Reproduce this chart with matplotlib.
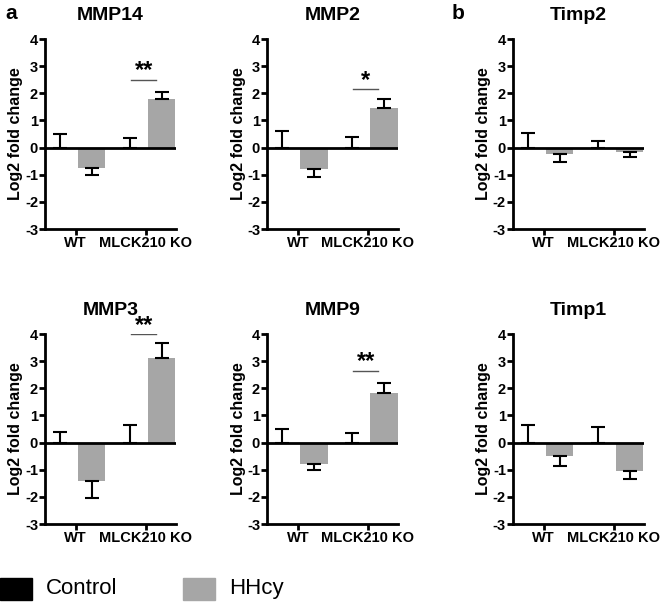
import numpy as np
import matplotlib.pyplot as plt

plt.rcParams['font.family'] = ['Liberation Sans', 'DejaVu Sans']
plt.rcParams['axes.unicode_minus'] = False

# data (log2 fold change)
genes = ['MMP14', 'MMP2', 'Timp2', 'MMP3', 'MMP9', 'Timp1']
groups = ['WT', 'MLCK210 KO']
ctrl_mean = [[0, 0], [0, 0], [0, 0], [0, 0], [0, 0], [0, 0]]
ctrl_err = [[0.5, 0.37], [0.6, 0.4], [0.52, 0.23], [0.4, 0.63], [0.5, 0.37], [0.65, 0.57]]
hhcy_mean = [[-0.75, 1.78], [-0.8, 1.47], [-0.25, -0.15], [-1.43, 3.1], [-0.78, 1.82], [-0.5, -1.05]]
hhcy_err = [[0.27, 0.28], [0.3, 0.31], [0.27, 0.18], [0.6, 0.56], [0.22, 0.38], [0.38, 0.3]]
# significance (KO control vs KO HHcy): stars, line height
sig = {'MMP14': ('**', 2.5), 'MMP2': ('*', 2.15), 'MMP3': ('**', 4.0), 'MMP9': ('**', 2.65)}

ctrl_col = 'black'
hhcy_col = '#a6a6a6'

fig = plt.figure(figsize=(6.61, 6.07), dpi=100)

lefts = [0.068, 0.404, 0.776]
bottoms = [0.6227, 0.1367]
w, h = 0.198, 0.313

x = np.arange(len(groups))
off = 0.23
bw = 0.39

for k, g in enumerate(genes):
    ax = fig.add_axes([lefts[k % 3], bottoms[k // 3], w, h])
    cm = np.array(ctrl_mean[k])
    ce = np.array(ctrl_err[k])
    hm = np.array(hhcy_mean[k])
    he = np.array(hhcy_err[k])

    ax.bar(x - off, cm, bw, color=ctrl_col)
    ax.bar(x + off, hm, bw, color=hhcy_col)
    # one-sided error bars in the direction of the bar
    ax.errorbar(x - off, cm, yerr=[np.zeros(2), ce], fmt='none', ecolor='black',
                elinewidth=1.5, capsize=5, capthick=1.5)
    lo = np.where(hm < 0, he, 0)
    hi = np.where(hm >= 0, he, 0)
    ax.errorbar(x + off, hm, yerr=[lo, hi], fmt='none', ecolor='black',
                elinewidth=1.5, capsize=5, capthick=1.5)

    ax.axhline(0, color='black', lw=2, zorder=5)
    ax.set_xlim(-0.44, 1.43)
    ax.set_ylim(-3, 4)
    ax.set_yticks(range(-3, 5))
    ax.set_xticks(x)
    ax.set_xticklabels(groups)
    for sp in ['top', 'right']:
        ax.spines[sp].set_visible(False)
    for sp in ['left', 'bottom']:
        ax.spines[sp].set_linewidth(2)
    ax.tick_params(width=2, length=4, labelsize=10.5, pad=1)
    for lab in ax.get_xticklabels() + ax.get_yticklabels():
        lab.set_fontweight('bold')
    ax.set_ylabel('Log2 fold change', fontsize=11.5, fontweight='bold', labelpad=1)
    ax.set_title(g, fontsize=14, fontweight='bold', pad=14)

    if g in sig:
        stars, yl = sig[g]
        ax.plot([1 - off + 0.02, 1 + off - 0.08], [yl, yl], color='#555555', lw=1)
        ax.text(1 - 0.03, yl - 0.1, stars, ha='center', va='bottom',
                fontsize=17, fontweight='bold')

fig.text(0.008, 0.978, 'a', fontsize=15, fontweight='bold', va='center')
fig.text(0.683, 0.978, 'b', fontsize=15, fontweight='bold', va='center')

# legend boxes at the bottom
fig.patches.append(plt.Rectangle((0.0, 0.012), 0.048, 0.036, color=ctrl_col,
                                 transform=fig.transFigure, figure=fig))
fig.text(0.07, 0.03, 'Control', fontsize=16, va='center')
fig.patches.append(plt.Rectangle((0.277, 0.012), 0.048, 0.036, color=hhcy_col,
                                 transform=fig.transFigure, figure=fig))
fig.text(0.347, 0.03, 'HHcy', fontsize=16, va='center')

fig.savefig('out.png', dpi=100)
